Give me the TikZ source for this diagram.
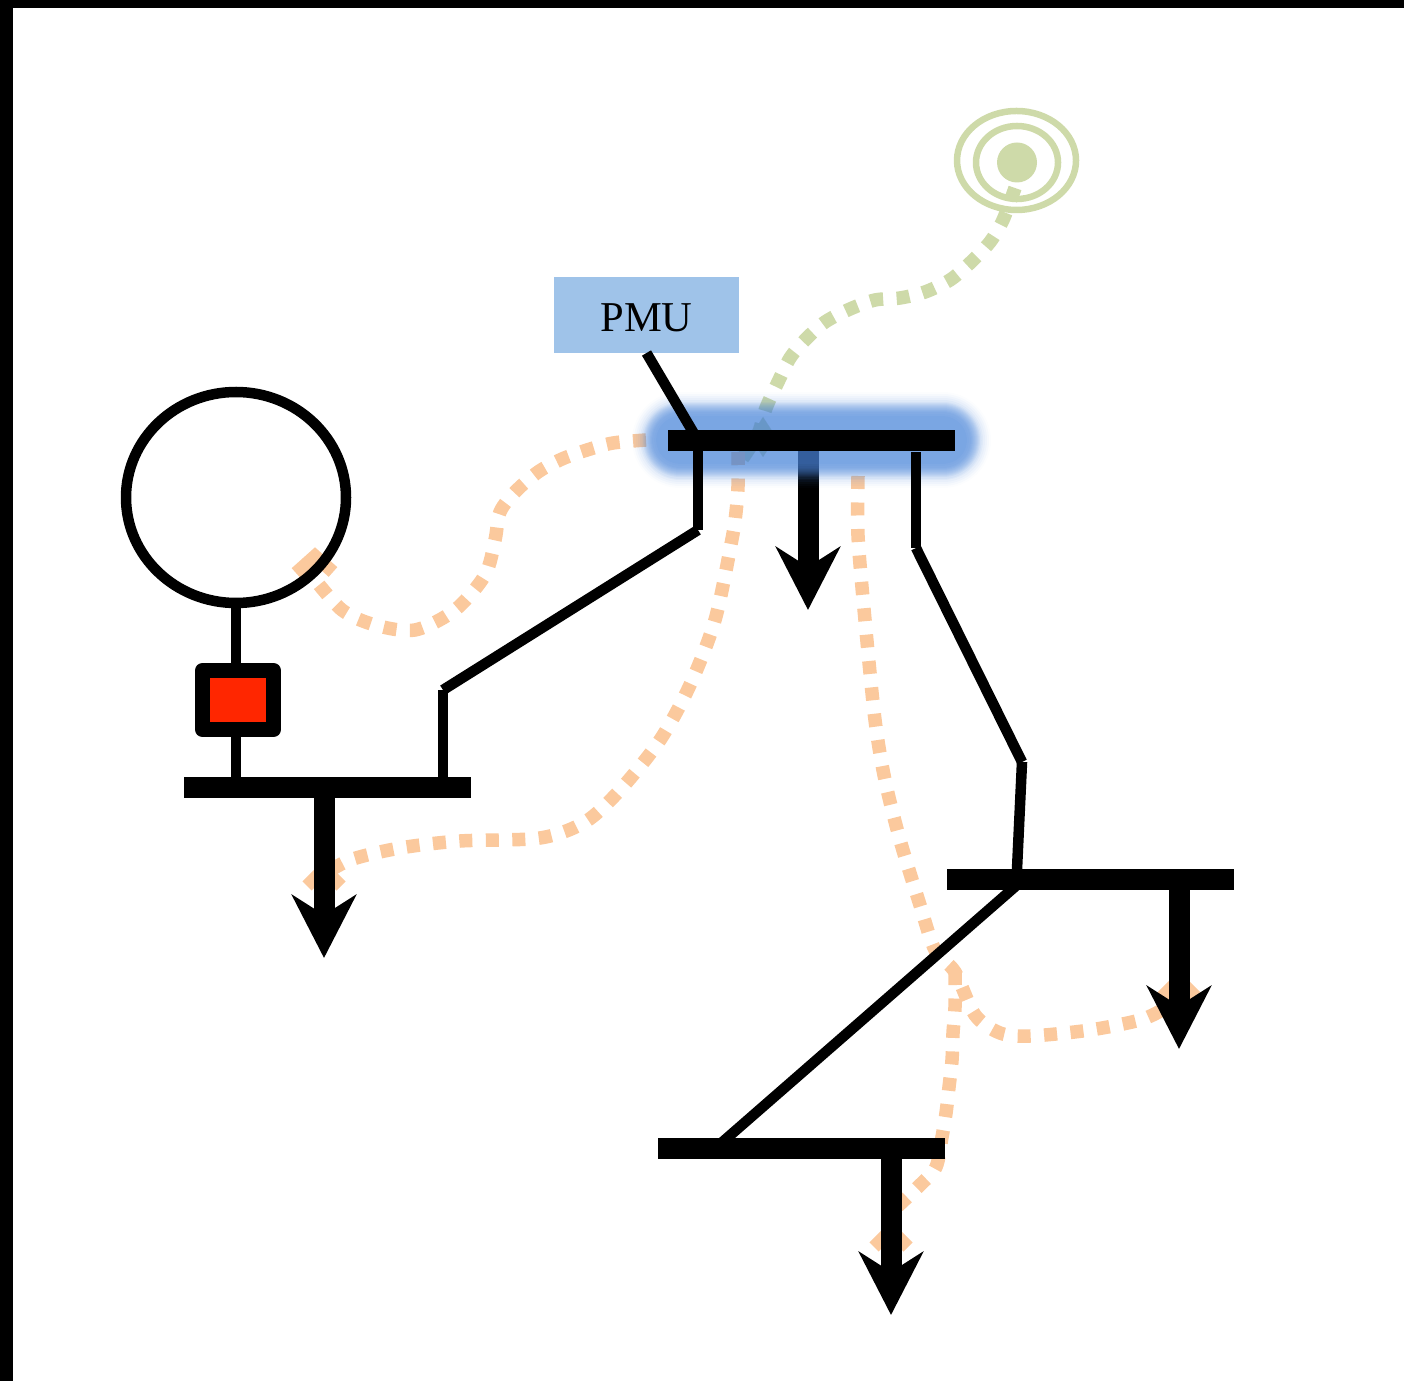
\documentclass[tikz,border=0pt]{standalone}
\usepackage{fontspec}
\setmainfont{Liberation Serif}
\usetikzlibrary{arrows.meta,calc,positioning,shapes.geometric}
\pgfdeclarelayer{back}
\pgfsetlayers{back,main}
\definecolor{flowor}{HTML}{FBC99D}
\definecolor{flowgr}{HTML}{CEDAA9}
\definecolor{pmublue}{HTML}{9FC3E9}
\definecolor{glowblue}{HTML}{4D87D9}
\definecolor{brkred}{HTML}{FF2600}

\begin{document}
\begin{tikzpicture}
[
	              y = -1cm,
	    busbar/.style = { fill=black, rectangle, inner sep=0pt, outer sep=0pt, minimum width=2.87cm, minimum height=.21cm },
	      line/.style = { draw=black, line width=.105cm },
	      load/.style = { draw=black, line width=.21cm, -{Stealth[length=.63cm,width=.64cm,inset=.2cm]} },
	      flow/.style = { draw=flowor, line width=.135cm, dash pattern=on .13cm off .135cm },
	    flowgn/.style = { flow, draw=flowgr },
	   chevron/.style = { draw=flowor, line width=.13cm, miter limit=2 },
	      ring/.style = { draw=flowgr, line width=.065cm }
]
	% frame edges
	\useasboundingbox (0,0) rectangle (14.04,13.81);
	\fill [black] (0,0) rectangle (14.04,.08);
	\fill [black] (0,0) rectangle (.13,13.81);

	\node (bus1) at (3.275,7.875)  [busbar] {};
	\node (bus2) at (8.115,4.405)  [busbar] {};
	\node (bus3) at (10.905,8.795) [busbar] {};
	\node (bus4) at (8.01,11.485)  [busbar] {};

	\node (gen) at (2.36,4.975) [ellipse, draw=black, line width=.105cm, inner sep=0pt, outer sep=0pt, minimum width=2.2cm, minimum height=2.11cm] {};
	\node (brk) at (2.38,7.00)  [rectangle, draw=black, fill=brkred, line width=.15cm, line join=round, inner sep=0pt, outer sep=0pt, minimum width=.71cm, minimum height=.59cm] {};
	\node (pmu) at (6.465,3.15) [rectangle, fill=pmublue, inner sep=0pt, outer sep=0pt, minimum width=1.85cm, minimum height=.76cm, text height=.34cm, text depth=0cm, font=\fontsize{12.1}{14}\selectfont] {PMU};

	% source of the oscillation
	\node (src) at (10.17,1.625) [circle, fill=flowgr, inner sep=0pt, minimum size=.40cm] {};
	\draw [ring] (10.17,1.625) ellipse (.41cm and .365cm);
	\draw [ring] (10.165,1.605) ellipse (.595cm and .495cm);

	% lines
	\coordinate (s1) at (2.36,7.00);
	\coordinate (a1) at (6.98,5.30);
	\coordinate (a2) at (4.43,6.90);
	\coordinate (c1) at (9.16,5.48);
	\coordinate (c2) at (10.22,7.62);
	\coordinate (c3) at (10.17,8.69);
	\coordinate (c4) at (10.17,8.85);
	\coordinate (d1) at (7.19,11.45);
	\draw [line] (s1 |- gen.south) -- (s1 |- brk.north);
	\draw [line] (s1 |- brk.south) -- (s1 |- bus1.north);
	\draw [line] (pmu.south) -- (a1 |- bus2.center);
	\draw [line] (a1 |- bus2.south) -- (a1);
	\draw [line] (a1) -- (a2);
	\draw [line] (a2) -- (a2 |- bus1.north);
	\draw [line] ([yshift=-.015cm] c1 |- bus2.south) -- (c1);
	\draw [line] (c1) -- (c2);
	\draw [line] (c2) -- (c3);
	\draw [line] (c4) -- (d1);

	\coordinate (g1) at (10.15,1.88);
	\coordinate (g2) at (7.40,4.62);
	\coordinate (o1) at (6.46,4.40);
	\coordinate (o2) at (3.12,5.76);
	\coordinate (o3) at (7.38,4.52);
	\coordinate (o4) at (3.18,8.78);
	\coordinate (o5) at (8.58,4.76);
	\coordinate (o6) at (11.62,10.10);
	\coordinate (o7) at (9.55,9.72);
	\coordinate (o8) at (8.98,12.06);
	\coordinate (ld1) at (3.24,9.58);
	\coordinate (ld2) at (8.08,6.10);
	\coordinate (ld3) at (11.79,10.49);
	\coordinate (ld4) at (8.91,13.15);
	\coordinate (gl1) at (6.80,4.405);
	\coordinate (gl2) at (9.43,4.405);

	\begin{pgfonlayer}{back}
		\draw [flowgn] plot [smooth] coordinates {(g1) (10.03,2.20) (9.90,2.42) (9.70,2.63) (9.50,2.80) (9.25,2.92) (9.00,2.98) (8.75,3.00) (8.50,3.09) (8.25,3.22) (8.05,3.40) (7.90,3.58) (7.78,3.82) (7.66,4.08) (7.58,4.34) (g2)};
		\fill [flowgr] (7.63,4.17) -- (7.76,4.37) -- (7.63,4.57) -- (7.50,4.37) -- cycle;

		\draw [flow] plot [smooth] coordinates {(o1) (6.13,4.43) (5.87,4.50) (5.62,4.59) (5.38,4.72) (5.15,4.92) (5.00,5.12) (4.95,5.40) (4.85,5.75) (4.55,6.10) (4.15,6.30) (3.75,6.25) (3.42,6.10) (o2)};
		\draw [chevron] (2.96,5.73) -- (3.15,5.56) -- (3.33,5.72);

		\draw [flow] plot [smooth] coordinates {(o3) (7.38,4.86) (7.36,5.12) (7.32,5.39) (7.15,6.20) (6.90,6.85) (6.60,7.40) (6.20,7.90) (5.85,8.22) (5.40,8.38) (4.60,8.41) (4.00,8.48) (3.50,8.60) (o4)};
		\draw [chevron] (3.07,8.86) -- (3.24,8.69) -- (3.41,8.86);

		\draw [flow] plot [smooth] coordinates {(o5) (8.58,5.36) (8.65,6.20) (8.75,7.20) (8.85,7.80) (9.00,8.40) (9.20,9.05) (9.35,9.50) (o7) (9.75,10.15) (10.00,10.33) (10.30,10.36) (10.90,10.30) (11.40,10.20) (o6)};
		\draw [chevron] (11.61,9.98) -- (11.79,9.80) -- (11.97,9.98);

		\draw [flow] plot [smooth] coordinates {(o7) (9.55,10.07) (9.53,10.33) (9.52,10.60) (9.49,10.87) (9.46,11.13) (9.42,11.37) (9.36,11.67) (9.20,11.85) (o8)};
		\draw [chevron] (8.74,12.47) -- (8.91,12.30) -- (9.08,12.47);

		% loads
		\draw [load] (ld1 |- bus1.south) -- (ld1);
		\draw [load] (ld2 |- bus2.south) -- (ld2);
		\draw [load] (ld3 |- bus3.south) -- (ld3);
		\draw [load] (ld4 |- bus4.south) -- (ld4);

		% glow behind the monitored bus
		\foreach \w/\a in {.48/.085,.52/.085,.56/.085,.58/.085,.60/.085,.62/.085,.64/.085,.66/.085,.68/.085,.70/.085,.72/.085,.74/.085,.77/.07,.80/.06,.84/.05,.88/.04,.92/.03,.96/.02}
			\draw [glowblue, opacity=\a, line cap=round, line width=\w cm] (gl1) -- (gl2);
	\end{pgfonlayer}
\end{tikzpicture}
\end{document}
